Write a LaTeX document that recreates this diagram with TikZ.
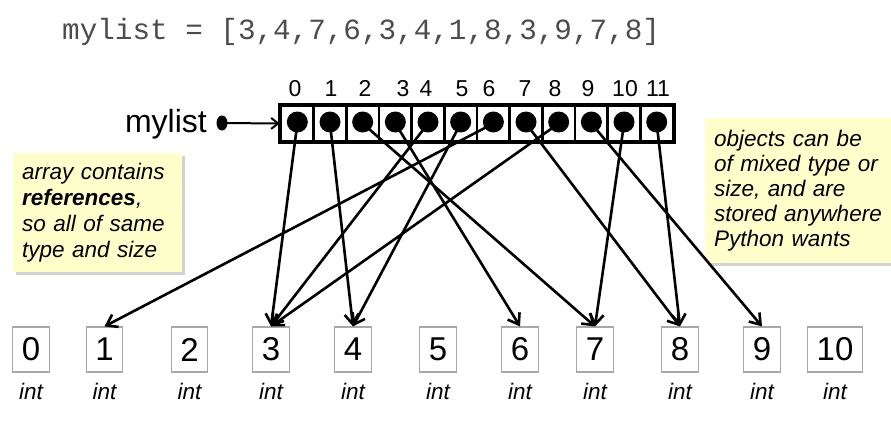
\documentclass[tikz,border=0pt]{standalone}
\usepackage{fontspec}
\setmainfont{Liberation Sans}
\setmonofont{Liberation Mono}
\usetikzlibrary{arrows.meta,shadows}
\hyphenpenalty=10000
\definecolor{notefill}{HTML}{FFFFCC}
\definecolor{objline}{HTML}{A8A8A8}
\tikzset{
  cell/.style={draw,line width=2.5pt,fill=white,minimum width=32.67pt,minimum height=35pt,inner sep=0pt},
  obj/.style={draw=objline,line width=1.2pt,fill=white,minimum width=35pt,minimum height=45pt,inner xsep=9pt,inner ysep=0pt,font=\fontsize{33}{33}\selectfont},
  ref/.style={line width=2.6pt,-{Straight Barb[length=10pt,width=14pt,line width=2.6pt]}},
  ptr/.style={line width=2pt,-{Straight Barb[length=7pt,width=11pt,line width=2pt]}},
  note/.style={fill=notefill,align=left,inner xsep=9pt,inner ysep=0pt,font=\itshape,
    drop shadow={shadow xshift=3pt,shadow yshift=-3pt,fill=black!35}},
  typelab/.style={font=\fontsize{22.5}{22.5}\selectfont\itshape,inner sep=0pt,anchor=base}
}
\begin{document}
\begin{tikzpicture}[x=1pt,y=-1pt]
  \useasboundingbox (0,0) rectangle (891,444);
  % code line
  \node[anchor=base west,inner sep=0pt,text=black!70,font=\ttfamily\fontsize{29.3}{29.3}\selectfont] (code) at (62,40) {mylist = [3,4,7,6,3,4,1,8,3,9,7,8]};
  % notes
  \node[note,anchor=north west,text width=151pt,minimum height=119pt,font=\fontsize{22.5}{26}\selectfont\itshape] (leftnote) at (13,153)
    {array contains\\\textbf{references},\\so all of same\\type and size};
  \node[note,anchor=north west,text width=168pt,minimum height=145pt,font=\fontsize{22.5}{25}\selectfont\itshape] (rightnote) at (705,118)
    {objects can be\\of mixed type or\\size, and are\\stored anywhere\\Python wants};
  % int objects
  \foreach \i/\x in {0/31,1/104.5,2/189.5,3/271,4/353,5/438,6/520,7/595,8/680,9/762,10/835} {
    \node[obj] (b\i) at (\x,349.5) {\i};
    \node[typelab] at (\x,399) {int};
  }
  % array cells
  \foreach \i in {0,...,11}
    \node[cell] (c\i) at (297.33+32.67*\i,123.5) {};
  \draw[line width=3.2pt] (c0.north west) rectangle (c11.south east);
  \foreach \i/\x in {0/295,1/331,2/365,3/403,4/426,5/462,6/489,7/525,8/555,9/588,10/625,11/658}
    \node[font=\fontsize{23}{23}\selectfont,inner sep=0pt,anchor=base] at (\x,96) {\i};
  % references
  \foreach \i/\t in {0/3,1/4,2/7,3/6,4/3,5/4,6/1,7/8,8/3,9/9,10/7,11/8}
    \draw[ref] (c\i.center) -- (b\t.north);
  \foreach \i in {0,...,11}
    \fill (c\i.center) ++(0,-1.5) circle (10.5);
  % variable
  \node[anchor=base east,inner sep=0pt,font=\fontsize{32}{32}\selectfont] (lbl) at (207,132) {mylist};
  \coordinate (head) at (222,123);
  \fill (head) ellipse (5.5 and 7.5);
  \draw[ptr] (head) -- (c0.west);
\end{tikzpicture}
\end{document}
